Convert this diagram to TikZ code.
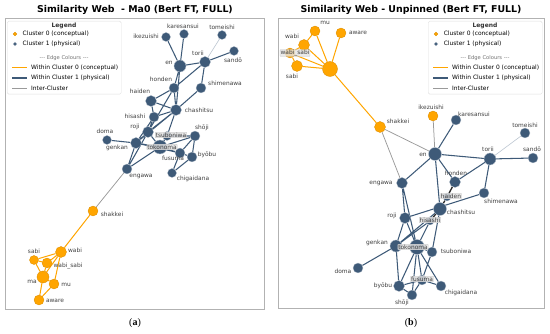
\documentclass[tikz,border=0pt]{standalone}
\usepackage{fontspec}
\setmainfont{DejaVu Sans}
\newfontfamily\capfont{Liberation Serif}
\usepackage{tikz}
\usetikzlibrary{positioning,backgrounds}
\definecolor{ConcOrange}{HTML}{FFA500}
\definecolor{PhysBlue}{HTML}{3E5A78}
\definecolor{InterGray}{HTML}{9A9A9A}

\begin{document}
\begin{tikzpicture}[
  x=1pt, y=-1pt,
  conc/.style={circle,draw=ConcOrange!85!black,line width=0.3pt,fill=ConcOrange,inner sep=0pt},
  phys/.style={circle,draw=white!60!PhysBlue,line width=0.3pt,fill=PhysBlue,inner sep=0pt},
  word/.style={font=\fontsize{5.9}{6.5}\selectfont,text=black!75,inner sep=0.5pt},
  boxed/.style={word,fill=gray!22,fill opacity=0.8,text opacity=1,draw=gray!45,line width=0.3pt,rounded corners=0.6pt},
  concedge/.style={draw=ConcOrange,line width=1pt},
  physedge/.style={draw=PhysBlue,line width=1.05pt},
  interedge/.style={draw=InterGray,line width=0.75pt},
  weakedge/.style={draw=PhysBlue!35,line width=0.6pt},
  darkedge/.style={draw=black!85,line width=1.3pt},
  title/.style={font=\bfseries\fontsize{9.4}{11}\selectfont},
  frame/.style={draw=gray!60,line width=0.5pt},
  legbox/.style={draw=gray!25,fill=white,rounded corners=1.5pt,line width=0.4pt},
  legtext/.style={font=\fontsize{5.95}{7}\selectfont,anchor=west,inner sep=0pt}
]
\useasboundingbox (0,0) rectangle (550,334);

% titles and captions
\node[title] (title-a) at (135,10) {Similarity Web\ \ - Ma0 (Bert FT, FULL)};
\node[title] (title-b) at (411,10) {Similarity Web - Unpinned (Bert FT, FULL)};
\node[font=\capfont\fontsize{10}{11}\selectfont] (cap-a) at (135,323) {(\textbf{a})};
\node[font=\capfont\fontsize{10}{11}\selectfont] (cap-b) at (411,323) {(\textbf{b})};

% ---- panel (a): pinned layout ----
\foreach \n/\x/\y/\r in {shakkei/93/211/5, wabi/61/252/5.5, sabi/34/260/4.5, wabisabi/47/263/5,
    ma/43/277/6, mu/54/284/5, aware/39/300/5}
  \node[conc,minimum size=2*\r] (a-\n) at (\x,\y) {};
\foreach \n/\x/\y/\r in {ikezuishi/166/37/4.5, karesansui/184/34/4.5, tomeishi/222/35/4.5,
    sando/234/51/4.5, en/180/66/6, torii/205/62/5.5, honden/174/88/5, shimenawa/201/88/5,
    haiden/151/101/5.5, chashitsu/176/110/5.5, hisashi/154/117/5, roji/148/132/5.5,
    shoji/195/136/5, tsuboniwa/167/136/4.5, doma/107/140/4.5, genkan/136/143/5.5,
    tokonoma/160/147/7, fusuma/180/153/5, byobu/192/157/5, chigaidana/172/173/4.5,
    engawa/127/169/5}
  \node[phys,minimum size=2*\r] (a-\n) at (\x,\y) {};

\foreach \n/\t/\x/\y in {ikezuishi/ikezuishi/146/36, karesansui/karesansui/183/26,
    tomeishi/tomeishi/222/27, sando/sandō/233/60, en/en/169/63, torii/torii/198/53,
    honden/honden/161/79, shimenawa/shimenawa/225/83, haiden/haiden/140/91,
    chashitsu/chashitsu/199/110, hisashi/hisashi/135/116, roji/roji/135/127,
    shoji/shōji/202/128, doma/doma/105/131, genkan/genkan/117/148, fusuma/fusuma/173/158,
    byobu/byōbu/207/155, chigaidana/chigaidana/193/179, engawa/engawa/141/176,
    shakkei/shakkei/112/214, wabi/wabi/75/250, sabi/sabi/34/251, wabisabi/wabi\_sabi/68/266,
    ma/ma/32/282, mu/mu/66/285, aware/aware/55/301}
  \node[word] (la-\n) at (\x,\y) {\t};
\node[boxed] (la-tsuboniwa) at (171,135) {tsuboniwa};
\node[boxed] (la-tokonoma) at (162,147) {tokonoma};

% ---- panel (b): unpinned layout ----
\foreach \n/\x/\y/\r in {mu/315/31/5, aware/341/33/5, wabi/304/45/5.5, wabisabi/290/53/5,
    sabi/297/66/5.5, ma/330/69/7.5, shakkei/380/127/5.5, ikezuishi/433/116/5}
  \node[conc,minimum size=2*\r] (b-\n) at (\x,\y) {};
\foreach \n/\x/\y/\r in {karesansui/456/120/5, tomeishi/525/133/5, sando/533/158/5,
    en/435/154/6.5, torii/490/159/6, honden/455/182/5.5, engawa/402/183/5.5,
    haiden/447/197/4, shimenawa/484/193/5, chashitsu/440/209/6.5, roji/405/218/5.5,
    hisashi/430/221/4, genkan/396/246/6, tokonoma/417/247/7.5, tsuboniwa/432/252/5,
    doma/358/268/5, fusuma/422/280/5, byobu/399/286/5.5, shoji/412/295/5,
    chigaidana/441/286/5}
  \node[phys,minimum size=2*\r] (b-\n) at (\x,\y) {};

\foreach \n/\t/\x/\y in {mu/mu/325/23, aware/aware/358/33, wabi/wabi/292/36, sabi/sabi/292/76,
    shakkei/shakkei/398/121, ikezuishi/ikezuishi/431/107, karesansui/karesansui/474/114,
    tomeishi/tomeishi/525/125, sando/sandō/532/149, en/en/423/155, torii/torii/488/149,
    honden/honden/456/173, engawa/engawa/381/183, shimenawa/shimenawa/501/201,
    chashitsu/chashitsu/461/212, roji/roji/392/216, genkan/genkan/377/243,
    tsuboniwa/tsuboniwa/456/251, doma/doma/343/271, byobu/byōbu/383/286,
    shoji/shōji/402/303, chigaidana/chigaidana/461/293}
  \node[word] (lb-\n) at (\x,\y) {\t};
\foreach \n/\t/\x/\y in {wabisabi/wabi\_sabi/295/53, haiden/haiden/451/196,
    hisashi/hisashi/430/220, tokonoma/tokonoma/413/247, fusuma/fusuma/422/279}
  \node[boxed] (lb-\n) at (\x,\y) {\t};

% frames and edges behind the nodes
\begin{scope}[on background layer]
\draw[frame] (5,18) rectangle (264,309);
\draw[frame] (278,18) rectangle (544,308);

% panel (a) edges
\draw[concedge] (a-shakkei) -- (a-wabi) (a-wabi) -- (a-sabi) (a-wabi) -- (a-wabisabi)
  (a-wabi) -- (a-ma) (a-wabi) -- (a-mu) (a-sabi) -- (a-wabisabi) (a-sabi) -- (a-ma)
  (a-wabisabi) -- (a-ma) (a-ma) -- (a-mu) (a-ma) -- (a-aware) (a-mu) -- (a-aware);
\draw[interedge] (a-engawa) -- (a-shakkei);
\draw[weakedge] (a-torii) -- (a-tomeishi);
\draw[physedge] (a-en) -- (a-ikezuishi) (a-en) -- (a-karesansui) (a-en) -- (a-torii)
  (a-torii) -- (a-sando) (a-en) -- (a-honden) (a-en) -- (a-chashitsu)
  (a-torii) -- (a-honden) (a-torii) -- (a-shimenawa) (a-honden) -- (a-haiden)
  (a-honden) -- (a-chashitsu) (a-honden) -- (a-roji) (a-shimenawa) -- (a-chashitsu)
  (a-haiden) -- (a-hisashi) (a-haiden) -- (a-chashitsu) (a-chashitsu) -- (a-hisashi)
  (a-chashitsu) -- (a-roji) (a-chashitsu) -- (a-tsuboniwa) (a-chashitsu) -- (a-genkan)
  (a-hisashi) -- (a-roji) (a-hisashi) -- (a-genkan) (a-roji) -- (a-genkan)
  (a-roji) -- (a-tokonoma) (a-doma) -- (a-genkan) (a-genkan) -- (a-tokonoma)
  (a-genkan) -- (a-engawa) (a-genkan) -- (a-fusuma) (a-engawa) -- (a-roji)
  (a-engawa) -- (a-tokonoma) (a-tokonoma) -- (a-fusuma) (a-tokonoma) -- (a-shoji)
  (a-tokonoma) -- (a-tsuboniwa) (a-tsuboniwa) -- (a-shoji) (a-shoji) -- (a-fusuma)
  (a-shoji) -- (a-byobu) (a-fusuma) -- (a-byobu) (a-fusuma) -- (a-chigaidana)
  (a-byobu) -- (a-chigaidana);

% panel (b) edges
\draw[concedge] (b-ma) -- (b-mu) (b-ma) -- (b-aware) (b-ma) -- (b-wabi) (b-ma) -- (b-wabisabi)
  (b-ma) -- (b-sabi) (b-wabi) -- (b-mu) (b-wabi) -- (b-wabisabi) (b-wabisabi) -- (b-sabi)
  (b-ma) -- (b-shakkei);
\draw[interedge] (b-shakkei) -- (b-en) (b-shakkei) -- (b-engawa) (b-ikezuishi) -- (b-en);
\draw[weakedge] (b-torii) -- (b-tomeishi);
\draw[physedge] (b-en) -- (b-karesansui) (b-en) -- (b-torii) (b-torii) -- (b-sando)
  (b-en) -- (b-engawa) (b-en) -- (b-honden) (b-en) -- (b-chashitsu)
  (b-torii) -- (b-honden) (b-torii) -- (b-shimenawa) (b-shimenawa) -- (b-roji)
  (b-chashitsu) -- (b-tsuboniwa) (b-chashitsu) -- (b-genkan) (b-hisashi) -- (b-genkan)
  (b-hisashi) -- (b-tokonoma) (b-engawa) -- (b-roji) (b-engawa) -- (b-tokonoma)
  (b-roji) -- (b-genkan) (b-roji) -- (b-tokonoma) (b-genkan) -- (b-doma)
  (b-genkan) -- (b-byobu) (b-tokonoma) -- (b-fusuma) (b-tokonoma) -- (b-byobu)
  (b-tokonoma) -- (b-shoji) (b-tokonoma) -- (b-chigaidana) (b-tokonoma) -- (b-tsuboniwa)
  (b-tsuboniwa) -- (b-fusuma) (b-byobu) -- (b-shoji) (b-byobu) -- (b-fusuma)
  (b-shoji) -- (b-fusuma) (b-fusuma) -- (b-chigaidana);
\draw[darkedge] (b-honden) -- (b-haiden) (b-haiden) -- (b-chashitsu) (b-chashitsu) -- (b-hisashi);
\end{scope}

% legends, same layout in both panels
\foreach \p/\dx in {a/0, b/421} {
  \begin{scope}[xshift=\dx]
    \node[legbox,minimum width=114,minimum height=73,anchor=north west] (leg-\p) at (7,21) {};
    \node[font=\bfseries\fontsize{6}{7}\selectfont,text=black!80] (leg-\p-head) at (64,25.5) {Legend};
    \node[conc,minimum size=3.8] (leg-\p-c0) at (15,34) {};
    \node[legtext,right=5.5pt of leg-\p-c0] (leg-\p-c0t) {Cluster 0 (conceptual)};
    \node[phys,minimum size=3.8] (leg-\p-c1) at (15,44) {};
    \node[legtext,right=5.5pt of leg-\p-c1] (leg-\p-c1t) {Cluster 1 (physical)};
    \node[font=\fontsize{5.2}{6}\selectfont,text=black!55] (leg-\p-sub) at (64,58) {\mbox{-{}-{}-} Edge Colours \mbox{-{}-{}-}};
    \draw[concedge] (12,68) -- (27,68);
    \node[legtext] (leg-\p-e0) at (31,68) {Within Cluster 0 (conceptual)};
    \draw[physedge] (12,78) -- (27,78);
    \node[legtext] (leg-\p-e1) at (31,78) {Within Cluster 1 (physical)};
    \draw[interedge] (12,88) -- (27,88);
    \node[legtext] (leg-\p-e2) at (31,88) {Inter-Cluster};
  \end{scope}
}
\end{tikzpicture}
\end{document}
